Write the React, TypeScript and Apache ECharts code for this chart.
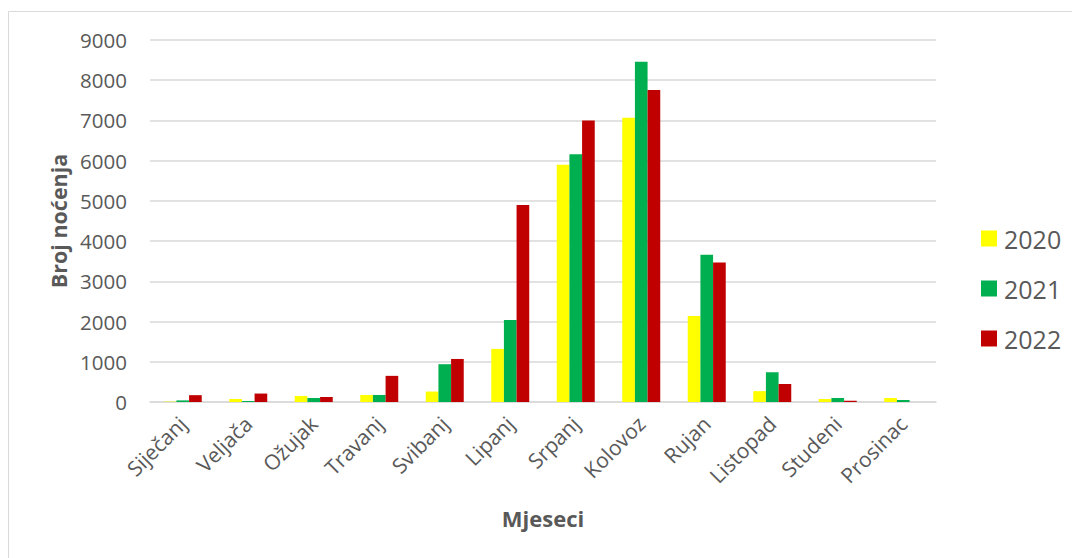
import React, { useEffect, useRef } from "react";
import * as echarts from "echarts";

const months = ["Siječanj", "Veljača", "Ožujak", "Travanj", "Svibanj", "Lipanj", "Srpanj", "Kolovoz", "Rujan", "Listopad", "Studeni", "Prosinac"];
const y2020 = [10, 75, 150, 175, 260, 1320, 5900, 7070, 2140, 270, 75, 100];
const y2021 = [40, 25, 100, 175, 940, 2040, 6160, 8460, 3660, 740, 100, 50];
const y2022 = [170, 210, 125, 650, 1070, 4900, 7000, 7760, 3470, 450, 30, 0];
const seriesNames = ["2020", "2021", "2022"];
const colors = ["#FFFF00", "#00B050", "#C00000"];

const FONT = "'Open Sans', sans-serif";
const TEXT = "#595959";

export default function App() {
  const ref = useRef<HTMLDivElement>(null);
  useEffect(() => {
    document.body.style.margin = "0";
    const chart = echarts.init(ref.current!, null, { renderer: "svg" });
    const data = [y2020, y2021, y2022];
    chart.setOption({
      animation: false,
      backgroundColor: "#ffffff",
      textStyle: { fontFamily: FONT, color: TEXT },
      grid: { left: 150, right: 136, top: 40, bottom: 156 },
      legend: {
        orient: "vertical",
        left: 976,
        top: 221,
        itemWidth: 16,
        itemHeight: 16,
        itemGap: 25,
        icon: "rect",
        textStyle: { fontSize: 25, color: TEXT, fontFamily: FONT, padding: [0, 0, 0, 2] },
        data: seriesNames,
      },
      xAxis: {
        type: "category",
        data: months,
        name: "Mjeseci",
        nameLocation: "middle",
        nameGap: 105,
        nameTextStyle: { fontSize: 22, fontWeight: "bold", color: TEXT, fontFamily: FONT },
        axisLine: { lineStyle: { color: "#d9d9d9", width: 1.5 } },
        axisTick: { show: false },
        axisLabel: { rotate: 45, fontSize: 21, color: TEXT, margin: 18, fontFamily: FONT },
      },
      yAxis: {
        type: "value",
        min: 0,
        max: 9000,
        interval: 1000,
        name: "Broj noćenja",
        nameLocation: "middle",
        nameGap: 80,
        nameRotate: 90,
        nameTextStyle: { fontSize: 21.5, fontWeight: "bold", color: TEXT, fontFamily: FONT },
        axisLine: { show: false },
        axisTick: { show: false },
        axisLabel: { fontSize: 20.5, color: TEXT, margin: 23, fontFamily: FONT, formatter: (v: number) => String(v) },
        splitLine: { lineStyle: { color: "#d9d9d9", width: 1.5 } },
      },
      series: seriesNames.map((n, i) => ({
        name: n,
        type: "bar",
        data: data[i],
        itemStyle: { color: colors[i] },
        barGap: "0%",
        barCategoryGap: "42%",
      })),
      graphic: [
        { type: "line", shape: { x1: 8.5, y1: 11.5, x2: 1072, y2: 11.5 }, style: { stroke: "#d9d9d9", lineWidth: 1 } },
        { type: "line", shape: { x1: 8.5, y1: 11.5, x2: 8.5, y2: 558 }, style: { stroke: "#d9d9d9", lineWidth: 1 } },
      ],
    });
    return () => chart.dispose();
  }, []);
  return <div ref={ref} style={{ width: 1072, height: 558 }} />;
}
